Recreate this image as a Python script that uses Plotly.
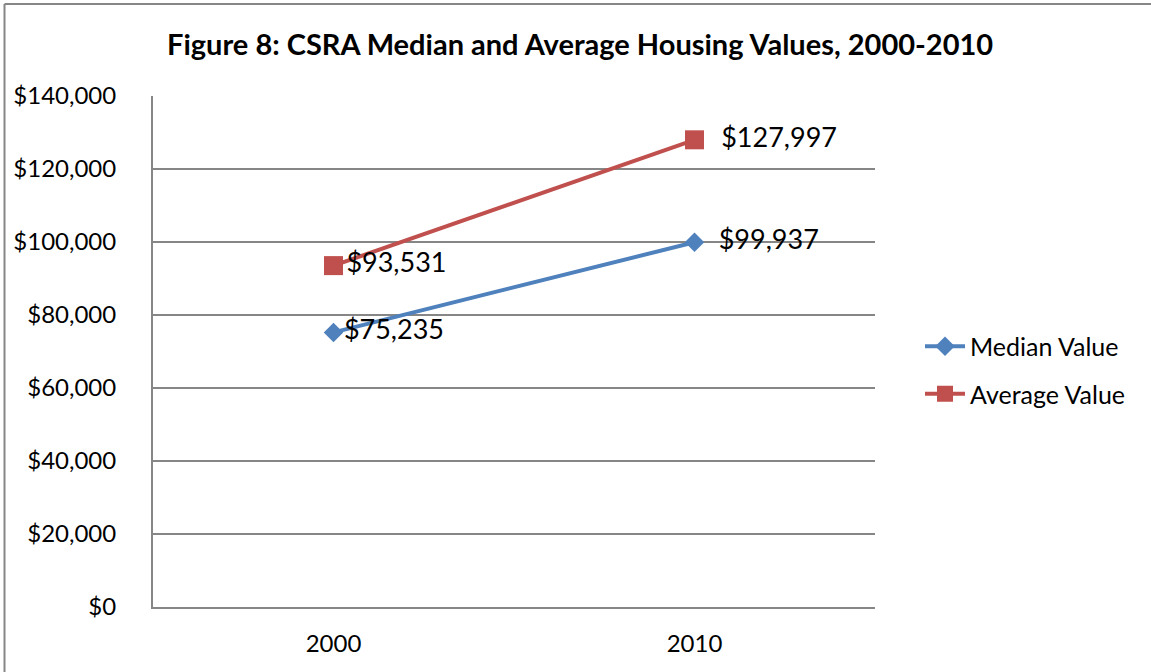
import plotly.graph_objects as go

years = ["2000", "2010"]
median_value = [75235, 99937]
average_value = [93531, 127997]
y_ticks = [0, 20000, 40000, 60000, 80000, 100000, 120000, 140000]
y_tick_labels = ["$0", "$20,000", "$40,000", "$60,000", "$80,000", "$100,000", "$120,000", "$140,000"]

FONT = "Lato"
BLUE = "#4F81BD"
RED = "#C0504D"
label_pad = ["", "  "]

def money(v):
    return "${:,}".format(v)

fig = go.Figure()
fig.add_trace(go.Scatter(
    x=years, y=median_value, name="Median Value", mode="lines+markers+text",
    legendgroup="a",
    line=dict(color=BLUE, width=4),
    marker=dict(symbol="diamond", size=15, color=BLUE),
    text=[p + money(v) for p, v in zip(label_pad, median_value)], textposition="middle right",
    textfont=dict(family=FONT, size=27, color="#000000"),
))
fig.add_trace(go.Scatter(
    x=years, y=average_value, name="Average Value", mode="lines+markers+text",
    legendgroup="b",
    line=dict(color=RED, width=4),
    marker=dict(symbol="square", size=19, color=RED),
    text=[p + money(v) for p, v in zip(label_pad, average_value)], textposition="middle right",
    textfont=dict(family=FONT, size=27, color="#000000"),
))

L, R, T, B = 153, 875, 96, 607
W, H = 1151, 672
pw, ph = R - L, B - T

def px(x):
    return (x - L) / pw

def py(y):
    return (B - y) / ph

border = dict(color="#868686", width=2)

fig.update_layout(
    width=W, height=H,
    margin=dict(l=L, r=W - R, t=T, b=H - B, autoexpand=False),
    paper_bgcolor="white", plot_bgcolor="white",
    font=dict(family=FONT, size=24, color="#000000"),
    title=dict(text="<b>Figure 8: CSRA Median and Average Housing Values, 2000-2010</b>",
               x=0.504, xref="container", xanchor="center",
               y=1 - 45 / H, yref="container", yanchor="middle",
               font=dict(family=FONT, size=29, color="#000000")),
    showlegend=True,
    legend=dict(x=px(920), y=py(370), xanchor="left", yanchor="middle",
                font=dict(family=FONT, size=25, color="#000000"),
                bgcolor="rgba(0,0,0,0)", tracegroupgap=12, itemwidth=40),
    xaxis=dict(type="category", range=[-0.5, 1.5], showgrid=False,
               showline=True, linecolor="#868686", linewidth=2,
               ticks="", tickfont=dict(family=FONT, size=24),
               ticklabelstandoff=14, zeroline=False, fixedrange=True),
    yaxis=dict(range=[0, 140000], tickvals=y_ticks, ticktext=y_tick_labels,
               showgrid=True, gridcolor="#868686", gridwidth=1.5,
               showline=True, linecolor="#868686", linewidth=2,
               ticks="", tickfont=dict(family=FONT, size=24),
               ticklabelstandoff=30, zeroline=False, fixedrange=True),
    shapes=[
        dict(type="line", xref="paper", yref="paper",
             x0=px(4.5), x1=px(1151), y0=py(4), y1=py(4), line=border, layer="above"),
        dict(type="line", xref="paper", yref="paper",
             x0=px(4.5), x1=px(4.5), y0=py(4), y1=py(672), line=border, layer="above"),
    ],
)

fig.write_html("out.html", config={"displayModeBar": False},
               post_script="document.body.style.margin='0';document.body.style.overflow='hidden';")
